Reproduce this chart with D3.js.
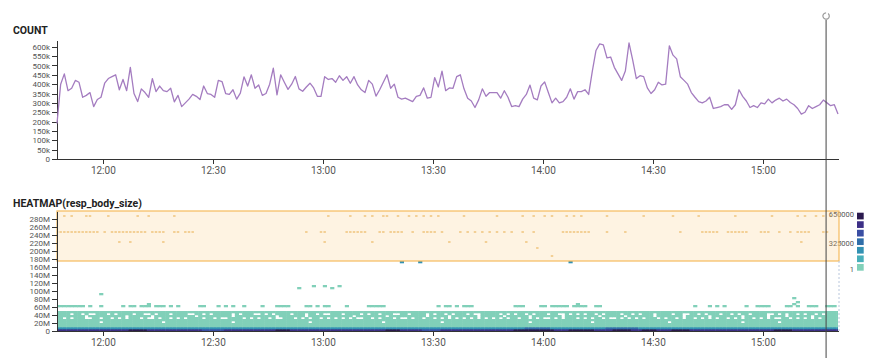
<!DOCTYPE html>
<html><head><meta charset="utf-8">
<script src="https://cdn.jsdelivr.net/npm/d3@7"></script>
<style>
body{margin:0;background:#fff;font-family:Roboto,"Liberation Sans",sans-serif;}
svg{display:block}
.ax path,.ax line{stroke:#333;shape-rendering:crispEdges}
.ax text{fill:#555;font-family:Roboto,"Liberation Sans",sans-serif}
</style>
</head><body>
<svg id="c" width="880" height="358"></svg>
<script>
// ---------- DATA ----------
const startTime = "11:47:30";
const endTime = "15:20:30";
const cursorTime = "15:17:15";
const xTickLabels = ["12:00","12:30","13:00","13:30","14:00","14:30","15:00"];
const countTicks = [0,50000,100000,150000,200000,250000,300000,350000,400000,450000,500000,550000,600000];
const sizeTicks = [0,20e6,40e6,60e6,80e6,100e6,120e6,140e6,160e6,180e6,200e6,220e6,240e6,260e6,280e6];
// COUNT per minute, in thousands, starting at startTime
const countK = [
190,400,455,365,378,420,410,330,340,355,280,318,330,405,430,440,450,370,425,365,
490,350,307,375,355,330,430,360,390,365,360,378,305,340,280,300,320,345,335,318,
390,350,345,330,420,414,350,345,370,320,352,439,390,
450,378,396,340,350,400,485,343,450,410,372,400,441,375,362,385,405,380,335,335,
440,425,430,410,445,420,440,405,440,396,370,355,420,400,336,370,410,450,378,400,
330,320,325,316,307,335,340,380,325,
330,435,385,470,365,380,378,440,450,375,325,310,275,316,375,335,355,355,355,325,
365,330,280,285,280,320,345,395,325,316,390,412,355,300,325,300,307,330,375,320,
360,360,370,345,470,580,615,610,540,545,490,455,
420,470,620,530,430,445,440,380,350,370,410,396,400,605,555,535,440,420,400,355,
330,307,300,310,330,270,275,280,290,290,265,290,370,335,310,275,285,275,300,295,
320,300,315,325,310,320,302,290,270,240,250,285,270,280,290,315,300,285,290,240
];
// heatmap: 1-minute columns, 5M rows; colour levels 1 (count 1) .. 7 (count 650000)
const levelColors = ["#81d0b9","#47afba","#3291b3","#2f6ea9","#3a4ea3","#3c2f86","#2b1a4f"];
const legendLabels = ["650000","325000","1"];
const bucketBytes = 5e6;
// full rows: [row, level]
const fullRows = [[0,6],[1,3],[2,1],[3,1],[4,1],[5,1],[6,1],[7,1],[8,1],[9,1]];
// level overrides: [row, fromMinute, toMinute, level]
const rowOverrides = [[0,20,24,7],[0,60,63,7],[0,90,93,7],[0,125,135,7],[0,140,146,7],[0,152,156,7],
  [0,160,163,7],[0,168,172,7],[0,196,200,7],[1,128,134,4],[1,150,158,4],[0,40,45,5],[0,100,104,5]];
// gaps inside the teal band ('.' = empty minute)
const gapRows = {
  8: "1111.11.1..111.1.1111.11..1.111.1111..11.1.11111.1.111..1.1.1111.111.11.1..111.1111.1.11.111..11.1111.1.11.1.111.1..11111.1.1.11.1.111.11..1.1.1.11.1.1111.11.1.111.1111.11..11.1.111.11.1.11.1111..1.1.11.1.11.1.1111",
  7: "11111111.1111111111.111111.11111111111.111111111.11111111111.1111111.111111111111.11111111.1111111111.11111.1111111.111111.111111.11111111.111111111.111111.1111111.1111111.111111.11111111.111111.1111.111111.111",
  6: "11.1.111..11.11.1.1.111.1..1.11.1.1.1111.11.1..1111.1.1.11.1..111.1.1.11.1.1.1.1.1..11.1.111.1..1.11.11.1.1.1.1.1.1.1.1.1.1.11.11.1.1..1.1.111.1.1.11.1..1.1.1.1.111.1.11.1.11.1.1.1.11.1.1.11.1.1.1..11.1.1.1.1.11",
  4: "111111111111.1111111111111111.111111111111111111.11111111111111111111.1111111111111111111.111111111111111.11111111111111111111111.1111111111111111.11111111111111111111.1111111111111111111.111111111.11111111"
};
// sparse row at 60-65M (row 12): minutes with a count
const row12Minutes = [0,1,2,3,4,5,6,7,9,12,18,20,21,23,24,25,27,28,29,31,33,39,40,44,46,48,51,56,60,61,62,63,
  68,69,71,73,74,79,85,86,87,88,89,104,106,107,109,111,112,113,125,126,127,132,133,135,136,137,138,139,
  141,142,143,144,147,148,174,178,180,182,188,191,192,193,194,199,200,202,205,206,207,210,211,212];
// other isolated cells: [minute, row, level]
const sparseCells = [[12,18,1],[66,21,1],[70,22,1],[73,22,1],[75,21,1],[77,22,1],[201,16,1],[202,14,1],
  [94,34,3],[99,34,3],[140,34,3],[25,13,1],[142,13,1],[201,13,1]];
// cells under the highlighted range (175M-300M): row -> minutes
const bandCells = {
  57: [2,4,8,9,14,22,25,32,74,80,84,86,89,90,93,96,98,100,102,104,111,120,127,130,133,135,139,141,143,150,160,168,175,185,195,202,204,207,209,211],
  49: [0,1,2,3,4,5,6,7,8,9,10,11,13,15,16,17,18,19,20,21,22,23,24,26,27,28,29,32,33,35,36,37,68,72,73,79,80,81,82,83,84,88,89,91,92,93,94,97,100,101,102,103,105,
       110,112,114,116,118,120,122,124,127,130,138,139,140,141,142,143,144,145,150,155,170,176,177,178,179,180,183,184,185,186,187,188,192,193,194,197,200,202,203,204,205,209,210],
  44: [17,20,29,73,86,107,117,128,203],
  41: [131],
  37: [135]
};

// ---------- CHART ----------
const parseT = s => { const p = s.split(":").map(Number); return new Date(2024,0,1,p[0],p[1],p[2]||0); };
const t0 = parseT(startTime), t1 = parseT(endTime);
const tAt = m => new Date(+t0 + m*60000);
const svg = d3.select("#c");
const x = d3.scaleTime().domain([t0,t1]).range([57,838]);
const yC = d3.scaleLinear().domain([0,636000]).range([159,40]);
const yS = d3.scaleLinear().domain([0,300e6]).range([331,211]);
const fmtK = d => d===0 ? "0" : (d/1000)+"k";
const fmtM = d => d===0 ? "0" : (d/1e6)+"M";
const xTicks = xTickLabels.map(parseT);
const cx0 = m => x(new Date(+tAt(m)-30000));
const cx1 = m => x(new Date(+tAt(m)+30000));

// titles
svg.append("text").attr("x",13).attr("y",34).text("COUNT")
  .attr("font-size",10.5).attr("font-weight",700).attr("fill","#222");
svg.append("text").attr("x",13).attr("y",207).text("HEATMAP(resp_body_size)")
  .attr("font-size",10.5).attr("font-weight",700).attr("fill","#222");

// top axes
const gy1 = svg.append("g").attr("class","ax").attr("transform","translate(57,0)")
  .call(d3.axisLeft(yC).tickValues(countTicks).tickFormat(fmtK).tickSize(5).tickPadding(2).tickSizeOuter(0));
gy1.selectAll("text").attr("font-size",8);
const gx1 = svg.append("g").attr("class","ax").attr("transform","translate(0,159)")
  .call(d3.axisBottom(x).tickValues(xTicks).tickFormat(d3.timeFormat("%H:%M")).tickSize(5).tickPadding(3).tickSizeOuter(0));
gx1.selectAll("text").attr("font-size",10);

// line
const lineData = countK.map((v,i)=>({t:tAt(i), v:v*1000}));
svg.append("path").datum(lineData)
  .attr("fill","none").attr("stroke","#a47cc0").attr("stroke-width",1.3).attr("stroke-linejoin","round")
  .attr("d", d3.line().x(d=>x(d.t)).y(d=>yC(d.v)));

// heatmap cells
const cells = [];
const nMin = countK.length;
fullRows.forEach(([row,level])=>{
  for(let m=0;m<nMin;m++){
    let lv = level;
    rowOverrides.forEach(o=>{ if(o[0]===row && m>=o[1] && m<=o[2]) lv=o[3]; });
    const g = gapRows[row];
    if(g && g[m]===".") continue;
    cells.push({m,row,color:levelColors[lv-1]});
  }
});
row12Minutes.forEach(m=>cells.push({m,row:12,color:levelColors[0]}));
sparseCells.forEach(([m,row,lv])=>cells.push({m,row,color:levelColors[lv-1]}));

svg.append("defs").append("clipPath").attr("id","hc").append("rect")
  .attr("x",57).attr("y",211).attr("width",781).attr("height",120);
const hg = svg.append("g").attr("clip-path","url(#hc)");
hg.selectAll("rect.c").data(cells).join("rect").attr("class","c")
  .attr("x",d=>cx0(d.m))
  .attr("width",d=>cx1(d.m)-cx0(d.m)+0.5)
  .attr("y",d=>yS((d.row+1)*bucketBytes))
  .attr("height",d=>yS(d.row*bucketBytes)-yS((d.row+1)*bucketBytes)+0.3)
  .attr("fill",d=>d.color);

// legend (drawn before highlight band)
const lg = svg.append("g");
levelColors.slice().reverse().forEach((c,i)=>{
  lg.append("rect").attr("x",857).attr("y",212.7+i*8.55).attr("width",6.7).attr("height",6.7).attr("fill",c);
});
[[legendLabels[0],217],[legendLabels[1],246],[legendLabels[2],272]].forEach(([t,yy])=>{
  lg.append("text").attr("x",854).attr("y",yy).attr("text-anchor","end")
    .attr("font-size",7.5).attr("fill","#555").text(t);
});

// highlighted range 175M-300M
const bandTop = 300e6, bandBottom = 175e6;
svg.append("rect").attr("x",57).attr("y",yS(bandTop)).attr("width",x(t1)-57+1)
  .attr("height",yS(bandBottom)-yS(bandTop))
  .attr("fill","rgba(248,196,112,0.2)").attr("stroke","#f5bb5e").attr("stroke-width",1.2);
const bc = [];
Object.keys(bandCells).forEach(r=>bandCells[r].forEach(m=>bc.push({m,row:+r})));
hg.selectAll("rect.b").data(bc).join("rect").attr("class","b")
  .attr("x",d=>cx0(d.m)+0.6)
  .attr("width",d=>cx1(d.m)-cx0(d.m)-1.2)
  .attr("y",d=>yS((d.row+1)*bucketBytes))
  .attr("height",2)
  .attr("fill","#f2d39f");
// dotted edge below the band
svg.append("line").attr("x1",839).attr("x2",839).attr("y1",yS(bandBottom)).attr("y2",331)
  .attr("stroke","#b8c6dc").attr("stroke-dasharray","2,2");

// bottom axes
const gy2 = svg.append("g").attr("class","ax").attr("transform","translate(57,0)")
  .call(d3.axisLeft(yS).tickValues(sizeTicks).tickFormat(fmtM).tickSize(5).tickPadding(2).tickSizeOuter(0));
gy2.selectAll("text").attr("font-size",8);
const gx2 = svg.append("g").attr("class","ax").attr("transform","translate(0,331)")
  .call(d3.axisBottom(x).tickValues(xTicks).tickFormat(d3.timeFormat("%H:%M")).tickSize(5).tickPadding(3).tickSizeOuter(0));
gx2.selectAll("text").attr("font-size",10);

// cursor
const cx = x(parseT(cursorTime));
svg.append("line").attr("x1",cx).attr("x2",cx).attr("y1",20).attr("y2",358)
  .attr("stroke","#444").attr("stroke-width",1);
svg.append("path").attr("transform",`translate(${cx},16)`)
  .attr("d",d3.arc()({innerRadius:2.6,outerRadius:3.8,startAngle:0.7,endAngle:2*Math.PI}))
  .attr("fill","#999");
</script>
</body></html>
